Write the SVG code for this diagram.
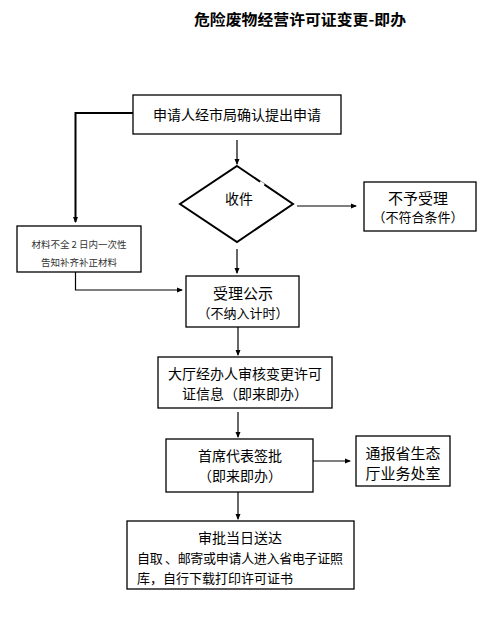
<svg xmlns="http://www.w3.org/2000/svg" width="503" height="627" viewBox="0 0 503 627">
<style>
.box{fill:#fff;stroke:#000;stroke-width:1.3}
.t{font-family:"Noto Sans CJK SC","Liberation Sans",sans-serif;font-size:14px;fill:#000;text-anchor:middle;dominant-baseline:central}
.s{font-size:13px}
.c{stroke:#000;stroke-width:1.2;fill:none}
</style>
<defs>
<marker id="a" markerWidth="6" markerHeight="6" refX="5" refY="3" orient="auto" markerUnits="userSpaceOnUse">
<path d="M0,0.5 L6,3 L0,5.5 Z" fill="#000"/>
</marker>
</defs>
<rect width="503" height="627" fill="#fff"/>
<text class="t" x="300" y="18" style="font-weight:bold;font-size:15px" textLength="212" lengthAdjust="spacingAndGlyphs">危险废物经营许可证变更-即办</text>

<g id="connectors">
<path class="c" d="M133,113 H75.5 V222" style="stroke-width:2" marker-end="url(#a)"/>
<path class="c" d="M237,140 V164" marker-end="url(#a)"/>
<path class="c" d="M297,206 H356" marker-end="url(#a)"/>
<path class="c" d="M237,249 V273" marker-end="url(#a)"/>
<path class="c" d="M75.5,272 V290 H182" marker-end="url(#a)"/>
<path class="c" d="M238,327 V355" marker-end="url(#a)"/>
<path class="c" d="M238,412 V437" marker-end="url(#a)"/>
<path class="c" d="M313,461 H350" marker-end="url(#a)"/>
<path class="c" d="M238,492 V519" marker-end="url(#a)"/>
</g>

<g id="n1">
<rect class="box" x="133" y="95" width="208" height="39"/>
<text class="t" x="237" y="114">申请人经市局确认提出申请</text>
</g>
<g id="n2">
<path d="M237,166 L293,204 L237,242 L180,204 Z" fill="#fff" stroke="#000" stroke-width="2"/>
<line x1="260" y1="182" x2="264" y2="185" stroke="#fff" stroke-width="2.5"/>
<text class="t" x="239" y="198">收件</text>
</g>
<g id="n3">
<rect class="box" x="364" y="182" width="112" height="49"/>
<text class="t" x="418" y="197" style="font-size:15px">不予受理</text>
<text class="t s" x="418" y="216">（不符合条件）</text>
</g>
<g id="n4">
<rect class="box" x="17" y="226" width="124" height="46"/>
<text class="t" x="79" y="244" style="font-size:9.5px;fill:#333">材料不全 2 日内一次性</text>
<text class="t" x="79" y="262" style="font-size:9.5px;fill:#333">告知补齐补正材料</text>
</g>
<g id="n5">
<rect class="box" x="186" y="276" width="113" height="51"/>
<text class="t" x="243" y="292" style="font-size:15px">受理公示</text>
<text class="t s" x="243" y="312">（不纳入计时）</text>
</g>
<g id="n6">
<rect class="box" x="158" y="357" width="174" height="51"/>
<text class="t" x="245" y="373">大厅经办人审核变更许可</text>
<text class="t" x="245" y="393">证信息（即来即办）</text>
</g>
<g id="n7">
<rect class="box" x="166" y="439" width="147" height="53"/>
<text class="t" x="240" y="455">首席代表签批</text>
<text class="t" x="240" y="475">（即来即办）</text>
</g>
<g id="n8">
<rect class="box" x="356" y="436" width="94" height="50"/>
<text class="t" x="403" y="452" style="font-size:15px">通报省生态</text>
<text class="t" x="403" y="472" style="font-size:15px">厅业务处室</text>
</g>
<g id="n9">
<rect class="box" x="127" y="521" width="227" height="68"/>
<text class="t" x="240" y="537">审批当日送达</text>
<text class="t s" x="137" y="557" style="text-anchor:start" textLength="206" lengthAdjust="spacing">自取 、邮寄或申请人进入省电子证照</text>
<text class="t s" x="137" y="577" style="text-anchor:start" textLength="156" lengthAdjust="spacing">库，自行下载打印许可证书</text>
</g>
</svg>
